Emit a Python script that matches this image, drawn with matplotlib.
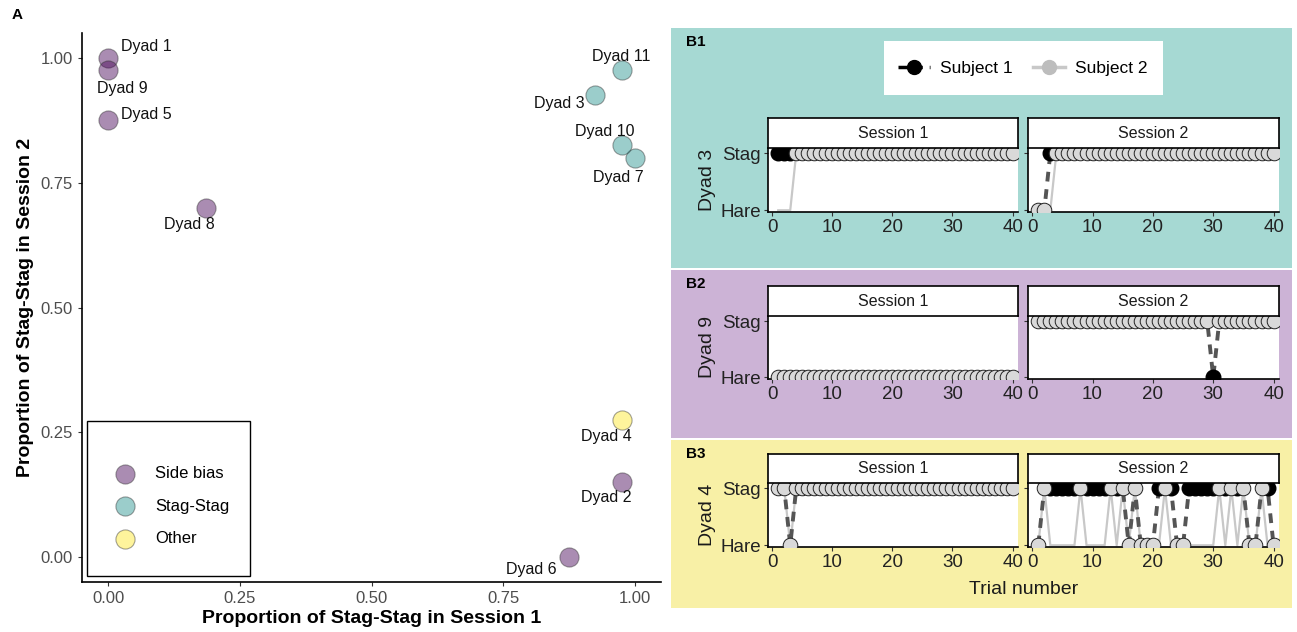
import numpy as np
import matplotlib.pyplot as plt
from matplotlib.lines import Line2D
from matplotlib.patches import Rectangle

plt.rcParams['font.family'] = ['Liberation Sans', 'DejaVu Sans']

# ---- panel A data ----
dyads = ['Dyad 1', 'Dyad 2', 'Dyad 3', 'Dyad 4', 'Dyad 5', 'Dyad 6',
         'Dyad 7', 'Dyad 8', 'Dyad 9', 'Dyad 10', 'Dyad 11']
prop_sess1 = [0.0, 0.975, 0.925, 0.975, 0.0, 0.875, 1.0, 0.185, 0.0, 0.975, 0.975]
prop_sess2 = [1.0, 0.15, 0.925, 0.275, 0.875, 0.0, 0.80, 0.70, 0.975, 0.825, 0.975]
groups = ['Side bias', 'Side bias', 'Stag-Stag', 'Other', 'Side bias', 'Side bias',
          'Stag-Stag', 'Side bias', 'Side bias', 'Stag-Stag', 'Stag-Stag']
group_order = ['Side bias', 'Stag-Stag', 'Other']

# ---- panel B data: one char per trial (S = Stag, H = Hare), trials 1..40 ----
b_dyads = ['Dyad 3', 'Dyad 9', 'Dyad 4']
b_tags = ['B1', 'B2', 'B3']
subj1 = {
    ('Dyad 3', 1): 'SSSSSSSSSSSSSSSSSSSSSSSSSSSSSSSSSSSSSSSS',
    ('Dyad 3', 2): 'HHSSSSSSSSSSSSSSSSSSSSSSSSSSSSSSSSSSSSSS',
    ('Dyad 9', 1): 'HHHHHHHHHHHHHHHHHHHHHHHHHHHHHHHHHHHHHHHH',
    ('Dyad 9', 2): 'SSSSSSSSSSSSSSSSSSSSSSSSSSSSSHSSSSSSSSSS',
    ('Dyad 4', 1): 'SSHSSSSSSSSSSSSSSSSSSSSSSSSSSSSSSSSSSSSS',
    ('Dyad 4', 2): ('H' 'SSSSSSSSSSSSSS' 'H' 'S' 'HHH' 'SSS' 'HH'
                    'SSSSSSSSSS' 'HH' 'SS' 'H'),
}
subj2 = {
    ('Dyad 3', 1): 'HHHSSSSSSSSSSSSSSSSSSSSSSSSSSSSSSSSSSSSS',
    ('Dyad 3', 2): 'HHHSSSSSSSSSSSSSSSSSSSSSSSSSSSSSSSSSSSSS',
    ('Dyad 9', 1): 'HHHHHHHHHHHHHHHHHHHHHHHHHHHHHHHHHHHHHHHH',
    ('Dyad 9', 2): 'SSSSSSSSSSSSSSSSSSSSSSSSSSSSSSSSSSSSSSSS',
    ('Dyad 4', 1): 'SSHSSSSSSSSSSSSSSSSSSSSSSSSSSSSSSSSSSSSS',
    ('Dyad 4', 2): ('H' 'S' 'HHHHH' 'S' 'HHHH' 'S' 'H' 'S' 'H' 'S' 'HHHH' 'S'
                    'HHHHHHHH' 'S' 'H' 'S' 'H' 'S' 'HH' 'S' 'HH'),
}
sessions = [1, 2]
trial_ticks = [0, 10, 20, 30, 40]

W, H = 1297, 632
fig = plt.figure(figsize=(W / 100, H / 100), dpi=100)


def box(l, t, r, b):
    return [l / W, 1 - b / H, (r - l) / W, (b - t) / H]


# ---------------- panel A ----------------
cols = dict(zip(group_order, ['#440154', '#21908C', '#FDE725']))
offsets = {'Dyad 1': (27, 8), 'Dyad 2': (-11, -11), 'Dyad 3': (-26, -6),
           'Dyad 4': (-11, -12), 'Dyad 5': (27, 4), 'Dyad 6': (-27, -9),
           'Dyad 7': (-12, -14), 'Dyad 8': (-12, -12), 'Dyad 9': (10, -13),
           'Dyad 10': (-12, 10), 'Dyad 11': (0, 10)}

ax = fig.add_axes(box(82, 33, 661, 582))
for g in group_order:
    idx = [i for i, gg in enumerate(groups) if gg == g]
    ax.scatter([prop_sess1[i] for i in idx], [prop_sess2[i] for i in idx],
               s=190, color=cols[g], alpha=0.45, edgecolor='#333333',
               linewidth=0.8, label=g, zorder=3)
for d, x, y in zip(dyads, prop_sess1, prop_sess2):
    ax.annotate(d, (x, y), xytext=offsets[d], textcoords='offset points',
                ha='center', va='center', fontsize=11.5, color='#111111')
ax.set_xlim(-0.05, 1.05)
ax.set_ylim(-0.05, 1.05)
ax.set_xticks([0, 0.25, 0.5, 0.75, 1.0])
ax.set_yticks([0, 0.25, 0.5, 0.75, 1.0])
ax.set_xticklabels(['0.00', '0.25', '0.50', '0.75', '1.00'])
ax.set_yticklabels(['0.00', '0.25', '0.50', '0.75', '1.00'])
ax.tick_params(labelsize=12, labelcolor='#4d4d4d', color='#333333', length=3)
for s in ['top', 'right']:
    ax.spines[s].set_visible(False)
for s in ['left', 'bottom']:
    ax.spines[s].set_linewidth(1.2)
ax.set_xlabel('Proportion of Stag-Stag in Session 1', fontsize=14,
              fontweight='bold', labelpad=3)
ax.set_ylabel('Proportion of Stag-Stag in Session 2', fontsize=14,
              fontweight='bold', labelpad=5)
ax.add_patch(Rectangle((-0.04, -0.038), 0.31, 0.31, fill=False,
                       edgecolor='black', linewidth=1, zorder=4))
ax.legend(loc='center left', bbox_to_anchor=(-0.028, 0.102),
          bbox_transform=ax.transData, frameon=False, fontsize=12,
          labelspacing=1.05, handletextpad=0.8, markerscale=1.0)
fig.text(12 / W, 1 - 15 / H, 'A', fontsize=11, fontweight='bold', va='center')

# ---------------- panel B ----------------
rows = [  # band top/bottom, strip top, panel top, panel bottom, band colour
    (28, 268, 118, 148, 212, '#a6d9d3'),
    (270, 438, 286, 316, 379, '#ccb3d6'),
    (440, 608, 454, 483, 547, '#f8f0a6'),
]
col_x = [(768, 1018), (1028, 1279)]

for r, (dy, tag) in enumerate(zip(b_dyads, b_tags)):
    bt, bb, st, pt, pb, bc = rows[r]
    fig.patches.append(Rectangle((671 / W, 1 - bb / H), (1292 - 671) / W,
                                 (bb - bt) / H, transform=fig.transFigure,
                                 facecolor=bc, edgecolor='none', zorder=-2))
    fig.text(686 / W, 1 - (bt + 14) / H, tag, fontsize=11, fontweight='bold',
             va='center')
    for c, sess in enumerate(sessions):
        l, rr = col_x[c]
        bx = fig.add_axes(box(l, pt, rr, pb))
        t = np.arange(1, 41)
        y1 = np.array([1 if ch == 'S' else 0 for ch in subj1[(dy, sess)]])
        y2 = np.array([1 if ch == 'S' else 0 for ch in subj2[(dy, sess)]])
        same = y1 == y2
        bx.plot(t, y2, color='#c8c8c8', lw=1.6, zorder=1)
        bx.plot(t, y1, color='#555555', lw=2.8, ls=(0, (2.5, 2)), zorder=2)
        bx.plot(t[~same], y1[~same], 'o', ms=10.5, color='black', zorder=3)
        bx.plot(t[same], y1[same], 'o', ms=10.5, mfc='#d9d9d9', mec='#222222',
                mew=0.7, zorder=4)
        bx.set_xlim(-0.7, 40.9)
        bx.set_ylim(-0.03, 1.09)
        bx.set_xticks(trial_ticks)
        bx.set_yticks([0, 1])
        if c == 0:
            bx.set_yticklabels(['Hare', 'Stag'])
            bx.set_ylabel(dy, fontsize=14, color='#1a1a1a', labelpad=3)
        else:
            bx.set_yticklabels([])
            bx.tick_params(axis='y', length=0)
        bx.tick_params(labelsize=13.5, labelcolor='#222222', length=3,
                       color='#333333', pad=2)
        bx.spines['top'].set_visible(False)
        bx.spines['right'].set_visible(False)
        for s in ['left', 'bottom']:
            bx.spines[s].set_linewidth(1.2)
        sx = fig.add_axes(box(l, st, rr, pt))
        sx.set_xticks([])
        sx.set_yticks([])
        for s in sx.spines.values():
            s.set_linewidth(1.2)
        sx.text(0.5, 0.5, f'Session {sess}', ha='center', va='center',
                fontsize=11.5, color='#1a1a1a', transform=sx.transAxes)

fig.text(1024 / W, 1 - 589 / H, 'Trial number', ha='center', va='center',
         fontsize=14, color='#1a1a1a')

handles = [Line2D([], [], color='black', lw=2.5, ls=(0, (2.5, 2)),
                  marker='o', ms=10),
           Line2D([], [], color='#c8c8c8', lw=2.5, marker='o', ms=10,
                  mfc='#bdbdbd', mec='#bdbdbd')]
fig.patches.append(Rectangle((884 / W, 1 - 95 / H), (1163 - 884) / W, 54 / H,
                             transform=fig.transFigure, facecolor='white',
                             edgecolor='none', zorder=-1))
fig.legend(handles, ['Subject 1', 'Subject 2'], loc='center',
           bbox_to_anchor=(1023 / W, 1 - 68 / H), ncol=2, frameon=False,
           fontsize=12.5, handlelength=1.8, columnspacing=1.2,
           handletextpad=0.6)

fig.savefig('out.png', dpi=100)
